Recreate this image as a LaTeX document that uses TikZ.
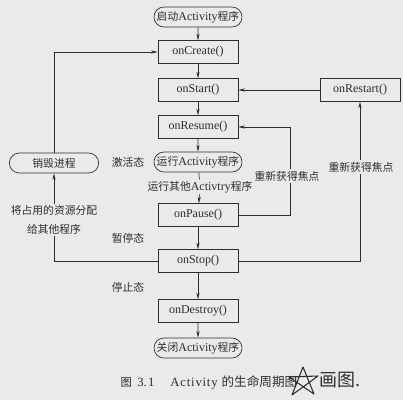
\documentclass[tikz,border=0pt]{standalone}
\usepackage{fontspec}
\setmainfont{Liberation Serif}
\newfontfamily\cjk{Noto Sans CJK SC}[Scale=0.9]
\usetikzlibrary{arrows.meta,shapes.misc}
\definecolor{paper}{RGB}{234,234,232}
\definecolor{ink}{RGB}{45,45,45}
\begin{document}
\begin{tikzpicture}[x=0.75pt,y=-0.75pt,
  every node/.style={font=\fontsize{9}{12}\selectfont, inner sep=1pt, text=ink},
  box/.style={draw=ink, minimum width=60pt, minimum height=17pt, line width=0.5pt},
  rbox/.style={draw=ink, rounded rectangle, minimum width=68pt, minimum height=15pt, line width=0.5pt},
  arr/.style={draw=ink, -{Stealth[length=5pt,width=2.4pt]}, line width=0.5pt},
  ln/.style={draw=ink, line width=0.5pt},
  lab/.style={fill=paper, inner sep=1.5pt}]
\useasboundingbox (0,0) rectangle (403,400);
\fill[paper] (0,0) rectangle (403,400);

\node[rbox] (start) at (198,17) {{\cjk 启动}Activity{\cjk 程序}};
\node[box] (create) at (198,52) {onCreate()};
\node[box] (startf) at (198,90) {onStart()};
\node[box] (resume) at (198,127) {onResume()};
\node[rbox] (run) at (198,162) {{\cjk 运行}Activity{\cjk 程序}};
\node (other) at (200,187) {{\cjk 运行其他}Activtry{\cjk 程序}};
\node[box] (pause) at (198,215) {onPause()};
\node[box] (stop) at (198,261) {onStop()};
\node[box] (destroy) at (198,311) {onDestroy()};
\node[rbox] (close) at (198,348) {{\cjk 关闭}Activity{\cjk 程序}};
\node[box] (restart) at (360,90) {onRestart()};
\node[rbox, minimum width=69pt] (kill) at (54,163) {\cjk 销毁进程};

\node (s1) at (128,162) {\cjk 激活态};
\node (s2) at (128,238) {\cjk 暂停态};
\node (s3) at (128,287) {\cjk 停止态};

\coordinate (c1) at (290,127);
\coordinate (c2) at (54,52);

\draw[arr] (start) -- (create);
\draw[arr] (create) -- (startf);
\draw[arr] (startf) -- (resume);
\draw[arr] (resume) -- (run);
\draw[ln] (run) -- (other);
\draw[arr] (other) -- (pause);
\draw[arr] (pause) -- (stop);
\draw[arr] (stop) -- (destroy);
\draw[arr] (destroy) -- (close);

\draw[arr] (restart) -- (startf);
\draw[arr] (pause.east) -| (c1) -- (resume.east);
\draw[arr] (stop.east) -| (restart.south);
\draw[arr] (stop.west) -| (kill.south);
\draw[arr] (kill.north) -- (c2) -- (create.west);

\node[lab, align=center, font=\fontsize{9}{14}\selectfont\cjk] (res) at (54,220) {将占用的资源分配\\给其他程序};
\node[lab, font=\fontsize{9}{12}\selectfont\cjk] (f1) at (287,176) {重新获得焦点};
\node[lab, font=\fontsize{9}{12}\selectfont\cjk] (f2) at (361,167) {重新获得焦点};

\node[anchor=west, font=\fontsize{9.5}{10}\selectfont] (cap) at (119,382) {{\cjk 图}\hspace{4pt}3.\hspace{1pt}1\hspace{12pt}A\hspace{0.6pt}c\hspace{0.6pt}t\hspace{0.6pt}i\hspace{0.6pt}v\hspace{0.6pt}i\hspace{0.6pt}t\hspace{0.6pt}y\hspace{3pt}{\cjk\fontsize{10.5}{10}\selectfont 的生命周期图}};

% handwritten annotation
\draw[ink, line width=0.8pt, line join=round] (292,395) -- (303,367) -- (314,394) -- (289,377) -- (318,376) -- cycle;
\node[anchor=west, font=\fontsize{15}{16}\selectfont\cjk] (hw) at (318,380) {画图.};
\end{tikzpicture}
\end{document}
